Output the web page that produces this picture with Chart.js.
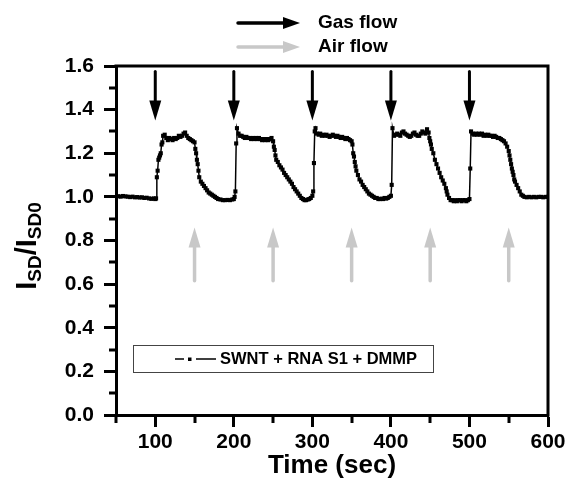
<!DOCTYPE html>
<html>
<head>
<meta charset="utf-8">
<script src="https://cdn.jsdelivr.net/npm/chart.js@4.4.1/dist/chart.umd.min.js"></script>
<style>
  html, body { margin: 0; padding: 0; background: #fff; }
  #wrap { width: 571px; height: 489px; }
</style>
</head>
<body>
<div id="wrap"><canvas id="chart" width="571" height="489"></canvas></div>
<script>
// ================= DATA =================
// time (sec) and normalized current I_SD / I_SD0
const timeSec = [
  50, 53, 56, 59, 62, 65, 68, 71, 74, 77, 80, 83, 86, 89, 92, 95, 98, 100, 101,
  102, 103, 104, 105, 106, 107, 108, 109, 110, 112, 114, 116, 118, 120, 122, 124, 126, 128, 130,
  132, 134, 136, 138, 140, 142, 144, 146, 148, 150,
  151, 152, 153, 154, 155, 156, 158, 160, 162, 164, 166, 168, 170, 172, 174, 176, 178, 180,
  183, 186, 189, 192, 195, 198, 200, 201,
  202, 203, 204, 206, 208, 210, 212, 214, 216, 218, 220, 222, 224, 226, 228, 230, 232, 234,
  236, 238, 240, 242, 244, 246, 248, 250,
  251, 252, 253, 254, 256, 258, 260, 262, 264, 266, 268, 270, 272, 274, 276, 278, 280, 282,
  284, 286, 288, 290, 292, 294, 296, 298, 300, 301,
  302, 303, 304, 306, 308, 310, 312, 314, 316, 318, 320, 322, 324, 326, 328, 330, 332, 334,
  336, 338, 340, 342, 344, 346, 348, 350,
  351, 352, 353, 354, 355, 356, 358, 360, 362, 364, 366, 368, 370, 372, 374, 376, 378, 380,
  382, 384, 386, 388, 390, 392, 394, 396, 398, 400,
  401, 402, 404, 406, 408, 410, 412, 414, 416, 418, 420, 422, 424, 426, 428, 430, 432, 434,
  436, 438, 440, 442, 444, 446, 448,
  449, 450, 451, 452, 454, 456, 458, 460, 462, 464, 466, 468, 470, 471, 472, 474, 476, 478,
  480, 482, 484, 486, 488, 490, 492, 494, 496, 498, 500,
  501, 502, 504, 506, 508, 510, 512, 514, 516, 518, 520, 522, 524, 526, 528, 530, 532, 534,
  536, 538, 540, 542, 544, 546,
  548, 550, 551, 552, 553, 554, 555, 556, 557, 558, 560, 562, 564, 566, 568, 570, 573, 576,
  579, 582, 585, 588, 591, 594, 597, 600
];
const isdRatio = [
  1.000, 1.003, 1.001, 1.004, 1.002, 1.001, 0.999, 1.001, 0.998, 0.999, 0.997, 0.998, 0.995, 0.996, 0.993, 0.991, 0.993, 0.990, 0.993,
  1.090, 1.120, 1.170, 1.180, 1.190, 1.200, 1.240, 1.250, 1.280, 1.285, 1.270, 1.260, 1.270, 1.265, 1.260, 1.270, 1.265, 1.270, 1.280,
  1.275, 1.280, 1.290, 1.295, 1.280, 1.270, 1.265, 1.260, 1.255, 1.250,
  1.220, 1.200, 1.170, 1.150, 1.120, 1.090, 1.070, 1.060, 1.050, 1.040, 1.030, 1.020, 1.015, 1.010, 1.005, 1.000, 0.995, 0.990,
  0.988, 0.985, 0.985, 0.986, 0.985, 0.988, 0.990, 1.000,
  1.025, 1.245, 1.315, 1.290, 1.280, 1.280, 1.275, 1.270, 1.275, 1.270, 1.270, 1.265, 1.270, 1.265, 1.270, 1.265, 1.270, 1.265,
  1.260, 1.265, 1.260, 1.265, 1.260, 1.265, 1.270, 1.255,
  1.230, 1.215, 1.190, 1.170, 1.160, 1.145, 1.135, 1.125, 1.110, 1.100, 1.090, 1.080, 1.070, 1.060, 1.045, 1.035, 1.025, 1.015,
  1.005, 0.995, 0.990, 0.985, 0.985, 0.988, 0.990, 0.995, 1.005, 1.025,
  1.155, 1.300, 1.315, 1.290, 1.285, 1.290, 1.280, 1.285, 1.280, 1.285, 1.280, 1.275, 1.280, 1.285, 1.280, 1.275, 1.280, 1.275,
  1.270, 1.275, 1.270, 1.265, 1.270, 1.265, 1.260, 1.255,
  1.240, 1.200, 1.185, 1.160, 1.140, 1.120, 1.100, 1.080, 1.070, 1.055, 1.045, 1.035, 1.025, 1.015, 1.010, 1.005, 1.000, 0.995,
  0.995, 0.990, 0.990, 0.992, 0.990, 0.995, 0.992, 0.995, 1.000, 1.005,
  1.055, 1.315, 1.280, 1.285, 1.290, 1.285, 1.280, 1.295, 1.300, 1.290, 1.285, 1.280, 1.275, 1.280, 1.290, 1.295, 1.285, 1.280,
  1.280, 1.290, 1.300, 1.295, 1.290, 1.310, 1.295,
  1.270, 1.255, 1.240, 1.220, 1.200, 1.170, 1.150, 1.130, 1.110, 1.090, 1.075, 1.060, 1.040, 1.025, 1.010, 0.995, 0.985, 0.985,
  0.980, 0.985, 0.980, 0.985, 0.985, 0.980, 0.985, 0.985, 0.980, 0.985, 0.990,
  1.130, 1.300, 1.290, 1.285, 1.290, 1.285, 1.290, 1.285, 1.290, 1.280, 1.285, 1.280, 1.285, 1.280, 1.280, 1.275, 1.280, 1.275,
  1.270, 1.270, 1.265, 1.260, 1.255, 1.245,
  1.230, 1.210, 1.190, 1.170, 1.150, 1.130, 1.115, 1.100, 1.080, 1.070, 1.055, 1.040, 1.025, 1.010, 1.005, 1.000, 0.998, 1.000,
  0.998, 1.000, 0.998, 1.000, 1.000, 0.998, 1.000, 1.000
];

// gas switched on (black arrows) and air switched on (grey arrows)
const gasTimes = [100, 200, 300, 400, 500];
const airTimes = [150, 250, 350, 450, 550];

const seriesLabel = "SWNT + RNA S1 + DMMP";
const xTitle = "Time (sec)";

// ================= HELPERS =================
const FONT = "'Liberation Sans', Arial, sans-serif";
const GREY = "#c8c8c8";

function arrow(ctx, x0, y0, x1, y1, color, lw, headLen, headW) {
    const ang = Math.atan2(y1 - y0, x1 - x0);
    const bx = x1 - headLen * Math.cos(ang);
    const by = y1 - headLen * Math.sin(ang);
    ctx.save();
    ctx.strokeStyle = color;
    ctx.fillStyle = color;
    ctx.lineWidth = lw;
    ctx.lineCap = "round";
    ctx.beginPath();
    ctx.moveTo(x0, y0);
    ctx.lineTo(bx, by);
    ctx.stroke();
    ctx.beginPath();
    ctx.moveTo(x1, y1);
    ctx.lineTo(bx + headW / 2 * Math.sin(ang), by - headW / 2 * Math.cos(ang));
    ctx.lineTo(bx - headW / 2 * Math.sin(ang), by + headW / 2 * Math.cos(ang));
    ctx.closePath();
    ctx.fill();
    ctx.restore();
}

// frame, minor ticks, arrows, legends, axis titles
const decorations = {
    id: "decorations",
    afterDraw(chart) {
        const { ctx, chartArea: a, scales: { x, y } } = chart;
        ctx.save();

        // top + right frame
        ctx.strokeStyle = "#000";
        ctx.lineWidth = 3;
        ctx.beginPath();
        ctx.moveTo(a.left - 1.5, a.top);
        ctx.lineTo(a.right, a.top);
        ctx.lineTo(a.right, a.bottom + 1.5);
        ctx.stroke();

        // minor ticks
        ctx.lineWidth = 3;
        ctx.beginPath();
        for (let v = 0.1; v < 1.6; v += 0.2) {
            const py = Math.round(y.getPixelForValue(v));
            ctx.moveTo(a.left, py);
            ctx.lineTo(a.left - 7, py);
        }
        for (let t = 50; t < 600; t += 100) {
            const px = Math.round(x.getPixelForValue(t));
            ctx.moveTo(px, a.bottom);
            ctx.lineTo(px, a.bottom + 8);
        }
        ctx.stroke();

        // gas arrows (down) and air arrows (up)
        gasTimes.forEach(t => {
            const px = x.getPixelForValue(t);
            arrow(ctx, px, y.getPixelForValue(1.575), px, y.getPixelForValue(1.35), "#000", 3, 20, 12);
        });
        airTimes.forEach(t => {
            const px = x.getPixelForValue(t);
            arrow(ctx, px, y.getPixelForValue(0.615), px, y.getPixelForValue(0.86), GREY, 3.5, 20, 12);
        });

        // series legend box
        ctx.lineWidth = 1;
        ctx.strokeStyle = "#444";
        ctx.strokeRect(133.5, 345.5, 300, 27);
        ctx.strokeStyle = "#000";
        ctx.lineWidth = 1.5;
        ctx.beginPath();
        ctx.moveTo(175, 359); ctx.lineTo(184, 359);
        ctx.moveTo(196, 359); ctx.lineTo(216, 359);
        ctx.stroke();
        ctx.fillStyle = "#000";
        ctx.fillRect(188, 357.5, 3.5, 3.5);
        ctx.font = "bold 16.5px " + FONT;
        ctx.textAlign = "left";
        ctx.textBaseline = "middle";
        ctx.fillText(seriesLabel, 220, 359);

        // gas / air legend on top
        arrow(ctx, 238, 23, 300, 23, "#000", 3.5, 17, 12);
        arrow(ctx, 238, 47, 300, 47, GREY, 3.5, 17, 12);
        ctx.font = "bold 19px " + FONT;
        ctx.fillText("Gas flow", 318, 23);
        ctx.fillText("Air flow", 318, 47);

        // x title
        ctx.font = "bold 26px " + FONT;
        ctx.textAlign = "center";
        ctx.fillText(xTitle, (a.left + a.right) / 2, 466);

        // y title: I_SD / I_SD0
        ctx.translate(28, 246);
        ctx.rotate(-Math.PI / 2);
        const big = "bold 29px " + FONT, small = "bold 19px " + FONT;
        const parts = [["I", big, 0], ["SD", small, 8], ["/I", big, 0], ["SD0", small, 8]];
        let w = 0;
        parts.forEach(p => { ctx.font = p[1]; w += ctx.measureText(p[0]).width; });
        let cx = -w / 2;
        ctx.textAlign = "left";
        parts.forEach(p => {
            ctx.font = p[1];
            ctx.fillText(p[0], cx, p[2]);
            cx += ctx.measureText(p[0]).width;
        });
        ctx.restore();
    }
};

// ================= CHART =================
Chart.defaults.font.family = FONT;
Chart.defaults.color = "#000";

const points = timeSec.map((t, i) => ({ x: t, y: isdRatio[i] }));

new Chart(document.getElementById("chart"), {
    type: "line",
    data: {
        datasets: [{
            label: seriesLabel,
            data: points,
            borderColor: "#000",
            backgroundColor: "#000",
            borderWidth: 1.5,
            pointStyle: "rect",
            pointRadius: 2.9,
            pointBorderWidth: 0,
            tension: 0
        }]
    },
    options: {
        responsive: false,
        devicePixelRatio: 1,
        animation: false,
        layout: { padding: { top: 66, right: 23, bottom: 0, left: 0 } },
        plugins: { legend: { display: false }, tooltip: { enabled: false } },
        scales: {
            x: {
                type: "linear",
                min: 50,
                max: 600,
                afterFit: s => { s.height = 74; },
                ticks: {
                    stepSize: 100,
                    autoSkip: false,
                    maxRotation: 0,
                    padding: 3,
                    font: { size: 21, weight: "bold" },
                    callback: v => (v >= 100 ? v : "")
                },
                afterBuildTicks: s => { s.ticks = [100, 200, 300, 400, 500, 600].map(v => ({ value: v })); },
                grid: { drawOnChartArea: false, tickLength: 12, tickWidth: 3, tickColor: "#000" },
                border: { display: true, color: "#000", width: 3 }
            },
            y: {
                min: 0,
                max: 1.6,
                afterFit: s => { s.width = 116; },
                ticks: {
                    stepSize: 0.2,
                    padding: 10,
                    font: { size: 21, weight: "bold" },
                    callback: v => v.toFixed(1)
                },
                grid: { drawOnChartArea: false, tickLength: 12, tickWidth: 3, tickColor: "#000" },
                border: { display: true, color: "#000", width: 3 }
            }
        }
    },
    plugins: [decorations]
});
</script>
</body>
</html>
